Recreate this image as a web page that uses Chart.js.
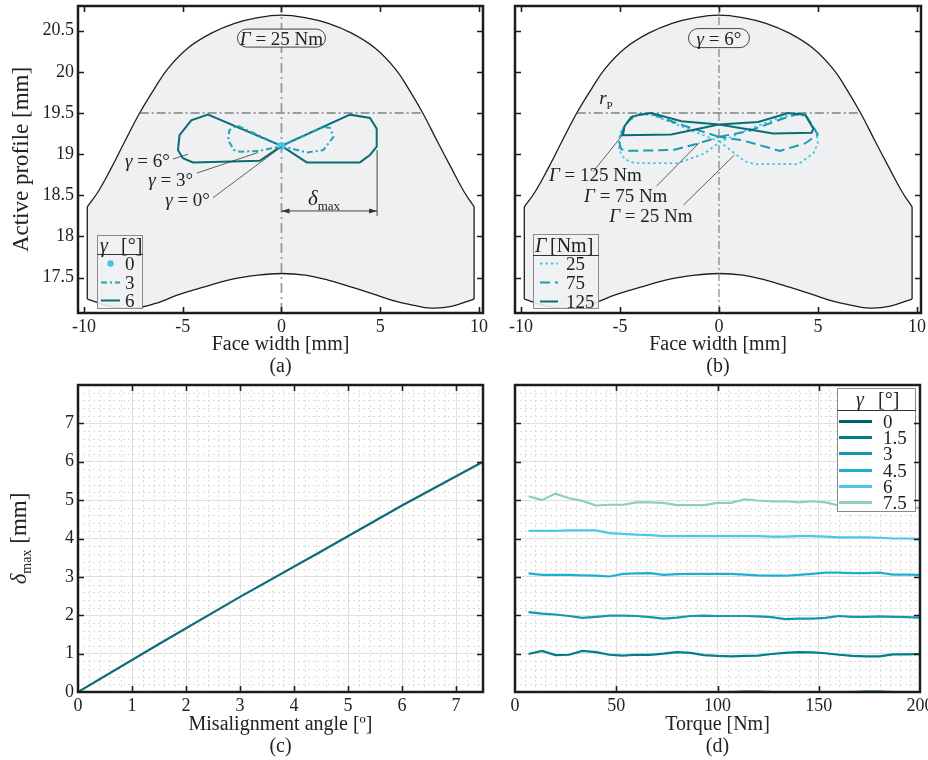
<!DOCTYPE html>
<html>
<head>
<meta charset="utf-8">
<script src="https://cdn.jsdelivr.net/npm/chart.js@4.4.1/dist/chart.umd.min.js"></script>
<style>
html, body { margin: 0; padding: 0; background: #fff; }
#wrap { position: relative; width: 928px; height: 760px; }
canvas { position: absolute; }
</style>
</head>
<body>
<div id="wrap">
<canvas id="ca" width="490" height="380" style="left:0;top:0;width:490px;height:380px"></canvas>
<canvas id="cb" width="438" height="380" style="left:490px;top:0;width:438px;height:380px"></canvas>
<canvas id="cc" width="490" height="380" style="left:0;top:380px;width:490px;height:380px"></canvas>
<canvas id="cd" width="438" height="380" style="left:490px;top:380px;width:438px;height:380px"></canvas>
</div>
<script>
// tooth flank outline, face width [mm] vs active profile [mm]
var tipX = [-9.83, -9.29, -8.62, -7.94, -7.18, -6.42, -5.75, -4.73, -3.55, -2.37, -1.19, 0, 1.19, 2.37, 3.55, 4.73, 5.75, 6.42, 7.15, 7.9, 8.6, 9.25, 9.75];
var tipY = [18.36, 18.54, 18.83, 19.15, 19.5, 19.8, 20.04, 20.29, 20.47, 20.59, 20.66, 20.69, 20.66, 20.59, 20.47, 20.29, 20.04, 19.8, 19.5, 19.15, 18.83, 18.54, 18.36];
var rootX = [9.75, 8.6, 7.58, 6.57, 5.8, 4.89, 3.6, 2.35, 1.2, 0, -1.2, -2.7, -4.0, -5.24, -6.2, -7.1, -8.0, -8.8, -9.83];
var rootY = [17.24, 17.15, 17.13, 17.17, 17.21, 17.28, 17.38, 17.47, 17.53, 17.55, 17.53, 17.47, 17.38, 17.29, 17.2, 17.14, 17.13, 17.16, 17.24];
var pitchY = 19.5;
var pitchX = [-7.18, 7.15];

// (a) contact patterns at 25 Nm
var g6X = [0, -3.72, -4.57, -5.16, -5.24, -4.99, -4.48, -1.1, 0, 3.47, 4.48, 4.82, 4.82, 4.48, 3.97, 1.28, 0];
var g6Y = [19.1, 19.48, 19.41, 19.23, 19.05, 18.95, 18.9, 18.92, 19.1, 19.48, 19.44, 19.31, 19.09, 18.99, 18.9, 18.9, 19.1];
var g3X = [0, -2.27, -2.64, -2.7, -2.4, -2.1, -1.09, 0, 1.28, 2.12, 2.63, 2.46, 2.12, 0];
var g3Y = [19.1, 19.35, 19.29, 19.17, 19.05, 19.03, 19.04, 19.1, 19.02, 19.05, 19.21, 19.32, 19.33, 19.1];
var g0X = [0];
var g0Y = [19.1];

// (b) contact patterns at 6 deg
var t25X = [0.05, -1.5, -3.42, -4.09, -4.6, -5.02, -5.05, -4.77, -4.26, -2.07, -0.72, 0.05, 1.31, 1.81, 4.01, 4.77, 4.99, 4.94, 4.43, 3.76, 3.0, 1.5, 0.05];
var t25Y = [19.15, 19.3, 19.48, 19.48, 19.39, 19.25, 19.05, 18.94, 18.89, 18.89, 19.01, 19.15, 18.91, 18.88, 18.88, 19.01, 19.13, 19.25, 19.46, 19.48, 19.44, 19.3, 19.15];
var t75X = [0, -2.07, -3.42, -4.26, -4.77, -4.97, -5.02, -4.94, -4.6, -2.32, -1.05, 0, 1.14, 3.08, 4.35, 4.99, 4.77, 4.35, 4.01, 3.33, 1.48, 0];
var t75Y = [19.21, 19.37, 19.49, 19.48, 19.35, 19.21, 19.13, 19.06, 19.04, 19.05, 19.13, 19.21, 19.17, 19.04, 19.13, 19.24, 19.33, 19.48, 19.49, 19.44, 19.28, 19.21];
var t125X = [0, -1.9, -3.42, -4.01, -4.43, -4.77, -4.85, -2.41, 0, 2.74, 4.68, 4.77, 4.35, 3.5, 1.98, 0];
var t125Y = [19.36, 19.4, 19.5, 19.48, 19.45, 19.34, 19.23, 19.24, 19.36, 19.25, 19.26, 19.31, 19.48, 19.5, 19.39, 19.36];

// (c) max deviation vs misalignment
var misAngle = [0, 1.5, 3, 4.5, 6, 7.5];
var deltaMax = [0, 1.25, 2.48, 3.66, 4.86, 6.0];

// (d) max deviation vs torque for each misalignment
var torque = [6.7, 13.3, 20, 26.7, 33.3, 40, 46.7, 53.3, 60, 66.7, 73.3, 80, 86.7, 93.3, 100, 106.7, 113.3, 120, 126.7, 133.3, 140, 146.7, 153.3, 160, 166.7, 173.3, 180, 186.7, 193.3, 200];
var dG0 = [0, 0, 0, 0, 0, 0, 0, 0, 0, 0, 0, 0, 0, 0, 0, 0, 0.01, 0.01, 0, 0, 0, 0, 0, 0, 0, 0.01, 0.01, 0, 0, 0];
var dG15 = [0.99, 1.07, 0.96, 0.97, 1.07, 1.04, 0.97, 0.95, 0.97, 0.97, 1.0, 1.04, 1.02, 0.96, 0.94, 0.93, 0.94, 0.95, 0.99, 1.02, 1.04, 1.03, 1.01, 0.97, 0.94, 0.93, 0.93, 0.98, 0.98, 0.99];
var dG3 = [2.08, 2.04, 2.02, 1.98, 1.93, 1.96, 1.99, 1.99, 1.98, 1.95, 1.91, 1.94, 1.98, 1.99, 1.98, 1.98, 1.98, 1.97, 1.95, 1.9, 1.91, 1.91, 1.93, 1.98, 1.96, 1.96, 1.97, 1.96, 1.95, 1.94];
var dG45 = [3.09, 3.05, 3.05, 3.05, 3.04, 3.03, 3.01, 3.08, 3.09, 3.1, 3.05, 3.07, 3.08, 3.08, 3.08, 3.08, 3.06, 3.04, 3.03, 3.03, 3.05, 3.08, 3.11, 3.11, 3.1, 3.1, 3.11, 3.06, 3.06, 3.05];
var dG6 = [4.2, 4.2, 4.2, 4.21, 4.21, 4.21, 4.14, 4.12, 4.1, 4.09, 4.06, 4.06, 4.06, 4.06, 4.06, 4.06, 4.06, 4.06, 4.05, 4.05, 4.06, 4.06, 4.05, 4.03, 4.03, 4.03, 4.02, 4.0, 4.0, 3.99];
var dG75 = [5.1, 5.0, 5.17, 5.05, 4.98, 4.86, 4.88, 4.88, 4.94, 4.94, 4.93, 4.87, 4.87, 4.87, 4.93, 4.93, 5.02, 4.99, 4.97, 4.97, 4.94, 4.97, 4.94, 4.86, 4.84, 4.82, 4.81, 4.8, 4.8, 4.8];
var gammaLabels = ['0', '1.5', '3', '4.5', '6', '7.5'];

var SERIF = "'Liberation Serif', 'DejaVu Serif', serif";
var INK = '#222';
var DARK = '#0b6d76', MID = '#1a9db0', LIGHT = '#48c2e8';
var AB_X = [-10.3, 10.2], AB_Y = [17.07, 20.8];

function pts(xs, ys) {
	return xs.map(function (x, i) { return { x: x, y: ys[i] }; });
}

var tipPts = pts(tipX, tipY), rootPts = pts(rootX, rootY);
var outline = tipPts.concat(rootPts);
outline.push(outline[0]);

// text made of pieces: [text, size, italic, dy]
function rich(ctx, parts, x, y, align) {
	var total = 0, widths = [];
	parts.forEach(function (p) {
		ctx.font = (p[2] ? 'italic ' : '') + p[1] + 'px ' + SERIF;
		var w = ctx.measureText(p[0]).width;
		widths.push(w);
		total += w;
	});
	var cx = align === 'right' ? x - total : (align === 'center' ? x - total / 2 : x);
	ctx.textAlign = 'left';
	ctx.textBaseline = 'alphabetic';
	parts.forEach(function (p, i) {
		ctx.font = (p[2] ? 'italic ' : '') + p[1] + 'px ' + SERIF;
		ctx.fillText(p[0], cx, y + (p[3] || 0));
		cx += widths[i];
	});
}

function drawNotes(chart, notes) {
	var ctx = chart.ctx, sx = chart.scales.x, sy = chart.scales.y;
	function X(v) { return sx.getPixelForValue(v); }
	function Y(v) { return sy.getPixelForValue(v); }
	notes.forEach(function (n) {
		ctx.save();
		if (n.kind === 'lead') {
			ctx.strokeStyle = '#3a3a3a';
			ctx.lineWidth = 0.8;
			ctx.beginPath();
			ctx.moveTo(X(n.at[0]), Y(n.at[1]));
			ctx.lineTo(X(n.at[2]), Y(n.at[3]));
			ctx.stroke();
		} else if (n.kind === 'text') {
			ctx.fillStyle = INK;
			rich(ctx, n.parts, X(n.at[0]), Y(n.at[1]) + 6.5, n.align || 'left');
		} else if (n.kind === 'pill') {
			var cx = X(n.at[0]), cy = Y(n.at[1]);
			ctx.beginPath();
			ctx.roundRect(cx - n.w / 2, cy - n.h / 2, n.w, n.h, n.h / 2);
			ctx.fillStyle = '#f0f1f3';
			ctx.fill();
			ctx.strokeStyle = '#333';
			ctx.lineWidth = 0.9;
			ctx.stroke();
			ctx.fillStyle = INK;
			rich(ctx, n.parts, cx, cy + 6.5, 'center');
		} else if (n.kind === 'span') {
			var x1 = X(n.at[0]), x2 = X(n.at[1]), yy = Y(n.at[2]);
			ctx.strokeStyle = '#333';
			ctx.fillStyle = '#333';
			ctx.lineWidth = 0.9;
			ctx.beginPath();
			ctx.moveTo(x1, yy);
			ctx.lineTo(x2, yy);
			ctx.moveTo(x2, Y(n.at[3]));
			ctx.lineTo(x2, Y(n.at[4]));
			ctx.stroke();
			ctx.beginPath();
			ctx.moveTo(x1, yy); ctx.lineTo(x1 + 8, yy - 2.5); ctx.lineTo(x1 + 8, yy + 2.5); ctx.closePath();
			ctx.moveTo(x2, yy); ctx.lineTo(x2 - 8, yy - 2.5); ctx.lineTo(x2 - 8, yy + 2.5); ctx.closePath();
			ctx.fill();
		}
		ctx.restore();
	});
}

function drawLegend(chart, lg) {
	var ctx = chart.ctx, a = chart.chartArea;
	var x0 = lg.right != null ? a.right - lg.right : a.left + lg.left;
	var y0 = lg.bottom != null ? a.bottom - lg.bottom : a.top + lg.top;
	ctx.save();
	ctx.fillStyle = lg.fill;
	ctx.fillRect(x0, y0, lg.w, lg.h);
	ctx.strokeStyle = '#8a8a8a';
	ctx.lineWidth = 1;
	ctx.strokeRect(x0 + 0.5, y0 + 0.5, lg.w, lg.h);
	ctx.strokeStyle = '#333';
	ctx.beginPath();
	ctx.moveTo(x0, y0 + lg.head + 0.5);
	ctx.lineTo(x0 + lg.w + 1, y0 + lg.head + 0.5);
	ctx.stroke();
	ctx.fillStyle = INK;
	lg.title.forEach(function (t) {
		rich(ctx, [[t[0], 20, t[2]]], x0 + t[1], y0 + lg.head / 2 + 7, 'left');
	});
	lg.rows.forEach(function (r, i) {
		var ds = chart.data.datasets[r[0]];
		var cy = Math.round(y0 + lg.row0 + i * lg.gap) + 0.5;
		if (ds.showLine === false) {
			ctx.fillStyle = ds.backgroundColor;
			ctx.beginPath();
			ctx.arc(x0 + (lg.s0 + lg.s1) / 2, cy, 3.2, 0, Math.PI * 2);
			ctx.fill();
		} else {
			ctx.strokeStyle = ds.borderColor;
			ctx.lineWidth = lg.lw || ds.borderWidth;
			ctx.setLineDash(ds.borderDash || []);
			ctx.beginPath();
			ctx.moveTo(x0 + lg.s0, cy);
			ctx.lineTo(x0 + lg.s1, cy);
			ctx.stroke();
			ctx.setLineDash([]);
		}
		ctx.fillStyle = INK;
		rich(ctx, [[r[1], 19, false]], x0 + lg.tx, cy + 6.5, 'left');
	});
	ctx.restore();
}

function drawFrame(chart) {
	var ctx = chart.ctx, a = chart.chartArea, sx = chart.scales.x, sy = chart.scales.y;
	ctx.save();
	ctx.strokeStyle = '#1c1c1c';
	ctx.lineWidth = 1.6;
	ctx.beginPath();
	sx.ticks.forEach(function (t) {
		var p = Math.round(sx.getPixelForValue(t.value)) + 0.5;
		if (p <= a.left + 2 || p >= a.right - 2) return;
		ctx.moveTo(p, a.bottom); ctx.lineTo(p, a.bottom - 6);
		ctx.moveTo(p, a.top); ctx.lineTo(p, a.top + 6);
	});
	sy.ticks.forEach(function (t) {
		var p = Math.round(sy.getPixelForValue(t.value)) + 0.5;
		if (p <= a.top + 2 || p >= a.bottom - 2) return;
		ctx.moveTo(a.left, p); ctx.lineTo(a.left + 6, p);
		ctx.moveTo(a.right, p); ctx.lineTo(a.right - 6, p);
	});
	ctx.stroke();
	ctx.lineWidth = 2.5;
	ctx.strokeRect(a.left, a.top, a.right - a.left, a.bottom - a.top);
	ctx.restore();
}

function minorGrid(chart, mg) {
	var ctx = chart.ctx, a = chart.chartArea, sx = chart.scales.x, sy = chart.scales.y, i, p, n;
	ctx.save();
	ctx.strokeStyle = '#dcdcdc';
	ctx.lineWidth = 1;
	ctx.setLineDash([2, 3]);
	ctx.beginPath();
	n = Math.round((sx.max - sx.min) / mg[0]);
	for (i = 1; i < n; i++) {
		if (i % mg[1] === 0) continue;
		p = Math.round(sx.getPixelForValue(sx.min + i * mg[0])) + 0.5;
		ctx.moveTo(p, a.top); ctx.lineTo(p, a.bottom);
	}
	n = Math.round((sy.max - sy.min) / mg[2]);
	for (i = 1; i < n; i++) {
		if (i % mg[3] === 0) continue;
		p = Math.round(sy.getPixelForValue(sy.min + i * mg[2])) + 0.5;
		ctx.moveTo(a.left, p); ctx.lineTo(a.right, p);
	}
	ctx.stroke();
	ctx.restore();
}

function makeDecor(cfg) {
	return {
		id: 'decor',
		beforeDatasetsDraw: function (chart) {
			if (cfg.minor) minorGrid(chart, cfg.minor);
		},
		afterDatasetsDraw: function (chart) {
			if (cfg.notes) drawNotes(chart, cfg.notes);
			if (cfg.legend) drawLegend(chart, cfg.legend);
		},
		afterDraw: function (chart) {
			drawFrame(chart);
			if (cfg.yTitle) {
				var ctx = chart.ctx, a = chart.chartArea;
				ctx.save();
				ctx.translate(19, (a.top + a.bottom) / 2);
				ctx.rotate(-Math.PI / 2);
				ctx.fillStyle = INK;
				rich(ctx, cfg.yTitle, 0, 7, 'center');
				ctx.restore();
			}
		}
	};
}

function xAxis(min, max, step, h, title, grid) {
	return {
		type: 'linear', min: min, max: max, position: 'bottom',
		ticks: { stepSize: step, includeBounds: false, autoSkip: false, maxRotation: 0, padding: 3, color: INK, font: { family: SERIF, size: 18 } },
		grid: { display: grid, drawTicks: false, color: '#e0e0e0', lineWidth: 1 },
		border: { display: false },
		title: { display: true, text: title, color: INK, font: { family: SERIF, size: 20, lineHeight: 1.1 }, padding: { top: 0, bottom: 2 } },
		afterFit: function (s) { s.height = h; s.paddingLeft = 0; s.paddingRight = 0; }
	};
}

function yAxis(min, max, step, w, labels, grid, title, cb) {
	return {
		type: 'linear', min: min, max: max, position: 'left',
		ticks: { stepSize: step, includeBounds: false, display: labels, padding: 4, color: INK, font: { family: SERIF, size: 18 }, callback: cb },
		grid: { display: grid, drawTicks: false, color: '#e0e0e0', lineWidth: 1 },
		border: { display: false },
		title: title ? { display: true, text: title, color: INK, font: { family: SERIF, size: 23, lineHeight: 1.2 }, padding: { top: 8, bottom: 0 } } : { display: false },
		afterFit: function (s) { s.width = w; s.paddingTop = 0; s.paddingBottom = 0; }
	};
}

function baseOptions(scales, pad) {
	return {
		responsive: false, animation: false, devicePixelRatio: 1, events: [],
		layout: { padding: pad },
		elements: { point: { radius: 0 }, line: { tension: 0 } },
		plugins: { legend: { display: false }, tooltip: { enabled: false } },
		scales: scales
	};
}

function line(data, color, width, dash, order, tension) {
	return { data: data, showLine: true, borderColor: color, backgroundColor: color, borderWidth: width, borderDash: dash, pointRadius: 0, fill: false, order: order, tension: tension || 0 };
}

// tooth body: filled polygon, smooth tip and root curves, straight flank ends
function flankSets(own, vDash, vColor, vWidth) {
	var rim = '#1e1e1e';
	return own.concat([
		line([{ x: 0, y: AB_Y[0] }, { x: 0, y: AB_Y[1] }], vColor, vWidth, vDash, 8),
		line([{ x: pitchX[0], y: pitchY }, { x: pitchX[1], y: pitchY }], '#4a4a4a', 1, [9, 3, 2, 3], 8),
		line(tipPts, rim, 1.3, [], 9, 0.4),
		line(rootPts, rim, 1.3, [], 9, 0.4),
		line([tipPts[0], rootPts[rootPts.length - 1]], rim, 1.3, [], 9),
		line([tipPts[tipPts.length - 1], rootPts[0]], rim, 1.3, [], 9),
		{ data: outline, showLine: true, borderColor: 'rgba(0,0,0,0)', borderWidth: 0, backgroundColor: '#eff0f2', fill: 'shape', pointRadius: 0, order: 10 }
	]);
}

// (a)
var setsA = flankSets([
	{ data: pts(g0X, g0Y), showLine: false, pointRadius: 3.5, backgroundColor: '#45c3ea', borderColor: '#45c3ea', order: 0 },
	line(pts(g3X, g3Y), '#1fa3b7', 2, [6, 3, 2, 3], 1),
	line(pts(g6X, g6Y), DARK, 2, [], 2)
], [10, 4, 2, 4], '#9a9a9a', 1.8);

new Chart(document.getElementById('ca'), {
	type: 'scatter',
	data: { datasets: setsA },
	options: baseOptions({
		x: xAxis(AB_X[0], AB_X[1], 5, 67, ['Face width [mm]', '(a)'], false),
		y: yAxis(AB_Y[0], AB_Y[1], 0.5, 78, true, false, 'Active profile [mm]')
	}, { left: 0, right: 7, top: 6, bottom: 0 }),
	plugins: [makeDecor({
		notes: [
			{ kind: 'pill', at: [0, 20.41], w: 88, h: 18, parts: [['Γ', 19, true], [' = 25 Nm', 19, false]] },
			{ kind: 'lead', at: [-5.49, 18.94, -4.73, 19.0] },
			{ kind: 'text', at: [-5.65, 18.92], align: 'right', parts: [['γ', 19, true], [' = 6°', 19, false]] },
			{ kind: 'lead', at: [-4.28, 18.77, -1.19, 19.02] },
			{ kind: 'text', at: [-4.48, 18.69], align: 'right', parts: [['γ', 19, true], [' = 3°', 19, false]] },
			{ kind: 'lead', at: [-3.47, 18.47, 0, 19.09] },
			{ kind: 'text', at: [-3.62, 18.45], align: 'right', parts: [['γ', 19, true], [' = 0°', 19, false]] },
			{ kind: 'span', at: [0, 4.84, 18.31, 19.05, 18.25] },
			{ kind: 'text', at: [1.34, 18.46], parts: [['δ', 21, true], ['max', 13, false, 5]] }
		],
		legend: {
			left: 19, bottom: 78, w: 45, h: 73, head: 19, fill: 'rgba(240,241,243,0.9)',
			title: [['γ', 3, true], ['[°]', 24, false]],
			rows: [[0, '0'], [1, '3'], [2, '6']],
			row0: 28, gap: 18.5, s0: 4, s1: 23, tx: 28
		}
	})]
});

// (b)
var setsB = flankSets([
	line(pts(t25X, t25Y), LIGHT, 1.8, [2.5, 3], 2),
	line(pts(t75X, t75Y), MID, 2, [10, 5], 1),
	line(pts(t125X, t125Y), DARK, 2, [], 0)
], [8, 3, 2, 3], '#6a6a6a', 1);

new Chart(document.getElementById('cb'), {
	type: 'scatter',
	data: { datasets: setsB },
	options: baseOptions({
		x: xAxis(AB_X[0], AB_X[1], 5, 67, ['Face width [mm]', '(b)'], false),
		y: yAxis(AB_Y[0], AB_Y[1], 0.5, 25, false, false, null)
	}, { left: 0, right: 7, top: 6, bottom: 0 }),
	plugins: [makeDecor({
		notes: [
			{ kind: 'pill', at: [0, 20.41], w: 61, h: 19, parts: [['γ', 19, true], [' = 6°', 19, false]] },
			{ kind: 'text', at: [-6.05, 19.69], parts: [['r', 19, true], ['P', 11, false, 5]] },
			{ kind: 'lead', at: [-6.35, 18.79, -4.94, 19.21] },
			{ kind: 'text', at: [-8.58, 18.75], parts: [['Γ', 19, true], [' = 125 Nm', 19, false]] },
			{ kind: 'lead', at: [-3.16, 18.61, -0.99, 19.14] },
			{ kind: 'text', at: [-6.81, 18.5], parts: [['Γ', 19, true], [' = 75 Nm', 19, false]] },
			{ kind: 'lead', at: [-1.8, 18.38, 0.78, 18.99] },
			{ kind: 'text', at: [-5.54, 18.26], parts: [['Γ', 19, true], [' = 25 Nm', 19, false]] }
		],
		legend: {
			left: 18, bottom: 79, w: 65, h: 74, head: 21, fill: 'rgba(240,241,243,0.9)',
			title: [['Γ', 2, true], ['[Nm]', 17, false]],
			rows: [[0, '25'], [1, '75'], [2, '125']],
			row0: 29, gap: 19, s0: 7, s1: 25, tx: 33
		}
	})]
});

// (c)
new Chart(document.getElementById('cc'), {
	type: 'scatter',
	data: { datasets: [line(pts(misAngle, deltaMax), DARK, 2.2, [], 0)] },
	options: baseOptions({
		x: xAxis(0, 7.5, 1, 68, ['Misalignment angle [º]', '(c)'], true),
		y: yAxis(0, 8, 1, 78, true, true, null, function (v) { return v === 8 ? '' : v; })
	}, { left: 0, right: 7, top: 5, bottom: 0 }),
	plugins: [makeDecor({
		minor: [0.2, 5, 0.2, 5],
		yTitle: [['δ', 23, true], ['max', 14, false, 5], [' [mm]', 23, false]]
	})]
});

// (d)
var dColors = ['#00636b', '#007f8a', '#1598aa', '#1cb0d0', '#4ec5ec', '#8ecdc2'];
var dSeries = [dG0, dG15, dG3, dG45, dG6, dG75];
new Chart(document.getElementById('cd'), {
	type: 'scatter',
	data: { datasets: dSeries.map(function (s, i) { return line(pts(torque, s), dColors[i], 2.2, [], i); }) },
	options: baseOptions({
		x: xAxis(0, 200, 50, 68, ['Torque [Nm]', '(d)'], true),
		y: yAxis(0, 8, 1, 25, false, true, null)
	}, { left: 0, right: 8, top: 5, bottom: 0 }),
	plugins: [makeDecor({
		minor: [5, 10, 0.2, 5],
		legend: {
			right: 83, top: 3, w: 78, h: 123, head: 22, fill: '#ffffff',
			title: [['γ', 19, true], ['[°]', 41, false]],
			rows: gammaLabels.map(function (g, i) { return [i, g]; }),
			row0: 33, gap: 16.2, s0: 2, s1: 35, tx: 46, lw: 3
		}
	})]
});
</script>
</body>
</html>
